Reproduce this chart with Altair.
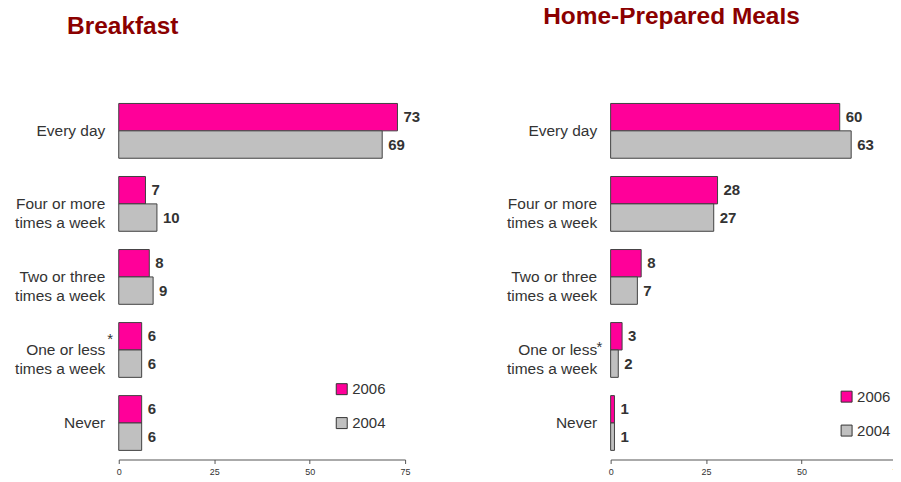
import altair as alt
import pandas as pd

categories = ["Every day", "Four or more|times a week", "Two or three|times a week",
              "One or less|times a week", "Never"]
years = ["2006", "2004"]
breakfast_2006 = [73, 7, 8, 6, 6]
breakfast_2004 = [69, 10, 9, 6, 6]
meals_2006 = [60, 28, 8, 3, 1]
meals_2004 = [63, 27, 7, 2, 1]
titles = ["Breakfast", "Home-Prepared Meals"]
star_category = "One or less|times a week"
x_ticks = [0, 25, 50, 75]
colors = ["#FF0099", "#C0C0C0"]

FONT = "Liberation Sans"
W, H = 287, 366


def frame(v2006, v2004):
    rows = []
    for c, a, b in zip(categories, v2006, v2004):
        rows.append({"cat": c, "year": "2006", "value": a})
        rows.append({"cat": c, "year": "2004", "value": b})
    return pd.DataFrame(rows)


def panel(title, v2006, v2004, title_x, title_y, star_x, star_dy, leg_x, leg_y):
    df = frame(v2006, v2004)
    y = alt.Y("cat:N", sort=categories, title=None,
              scale=alt.Scale(paddingInner=0.25, paddingOuter=0.125),
              axis=alt.Axis(labelExpr="split(datum.value, '|')", domain=False, ticks=False,
                            labelPadding=14, labelFontSize=15.5, labelColor="#333333",
                            labelLineHeight=19, labelFont=FONT, labelLimit=200))
    x = alt.X("value:Q", title=None,
              scale=alt.Scale(domain=[0, 75], nice=False),
              axis=alt.Axis(values=x_ticks, grid=False, labelFontSize=9, labelColor="#333333",
                            domainColor="#555555", tickColor="#555555", tickSize=4,
                            labelPadding=4, labelFont=FONT, labelFlush=False))
    yo = alt.YOffset("year:N", sort=years, scale=alt.Scale(paddingInner=0, paddingOuter=0))
    color = alt.Color("year:N", sort=years,
                      scale=alt.Scale(domain=years, range=colors),
                      legend=alt.Legend(title=None, orient="none", legendX=leg_x, legendY=leg_y,
                                        symbolType="square", symbolSize=121,
                                        symbolStrokeColor="#333333", symbolStrokeWidth=1,
                                        labelFontSize=15, labelColor="#333333", labelFont=FONT,
                                        rowPadding=18, labelOffset=3, padding=0))
    base = alt.Chart(df)
    bars = base.mark_bar(stroke="#404040", strokeWidth=1).encode(y=y, x=x, yOffset=yo, color=color)
    labels = base.mark_text(align="left", baseline="middle", dx=6, fontSize=15,
                            fontWeight="bold", color="#333333", font=FONT).encode(
        y=alt.Y("cat:N", sort=categories), x="value:Q", yOffset=yo, text="value:Q")
    star = alt.Chart(pd.DataFrame({"cat": [star_category], "s": ["*"]})).mark_text(
        align="center", baseline="middle", fontSize=15, color="#333333", font=FONT,
        dy=star_dy).encode(y=alt.Y("cat:N", sort=categories), x=alt.value(star_x), text="s:N")
    ttl = alt.Chart(pd.DataFrame({"t": [title]})).mark_text(
        align="center", baseline="top", fontSize=24.5, fontWeight="bold",
        color="#8B0000", font=FONT).encode(x=alt.value(title_x), y=alt.value(title_y), text="t:N")
    return alt.layer(bars, labels, star, ttl).properties(width=W, height=H)


left = panel(titles[0], breakfast_2006, breakfast_2004, 4, -79, -8.7, -11, 216, 288)
right = panel(titles[1], meals_2006, meals_2004, 61, -89, -11.3, -3, 229, 295.5)

chart = alt.HConcatChart(hconcat=[left, right], spacing=206, bounds="flush").resolve_scale(
    color="independent").properties(
    padding={"left": 6, "top": -4, "right": -10, "bottom": 0},
).configure(font=FONT).configure_view(stroke="transparent", strokeWidth=0)

chart.save("out.html", embed_options={"renderer": "svg", "actions": False})
